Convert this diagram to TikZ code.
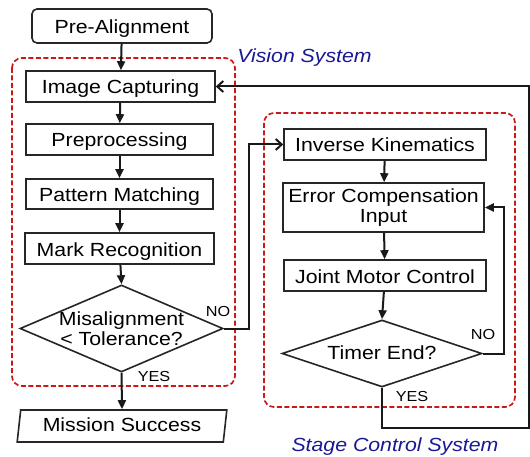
\documentclass[tikz,border=0pt]{standalone}
\usepackage{fontspec}
\setmainfont{Liberation Sans}[FakeStretch=1.12]
\usetikzlibrary{shapes.geometric,arrows.meta}
\definecolor{lblue}{RGB}{25,25,150}
\definecolor{dred}{RGB}{200,25,25}
\tikzset{
  box/.style={draw=black!85, line width=1.6pt, inner sep=0pt, align=center, font=\fontsize{19}{20}\selectfont},
  onel/.style={text height=15pt, text depth=0pt},
  dia/.style={draw=black!85, line width=1.6pt, diamond, inner sep=0pt},
  diatext/.style={align=center, font=\fontsize{19}{20}\selectfont, inner sep=0pt},
  grp/.style={draw=dred, line width=1.7pt, dash pattern=on 5pt off 2.5pt, rounded corners=10pt},
  grplabel/.style={text=lblue, font=\fontsize{19}{20}\selectfont\itshape},
  arr/.style={draw=black!90, line width=2pt, -{Triangle[length=9pt,width=8pt]}},
  arro/.style={draw=black!90, line width=2pt, -{Straight Barb[length=6pt,width=11pt,line width=2pt]}},
  lab/.style={font=\fontsize{14.5}{15}\selectfont, inner sep=0pt}
}
\begin{document}
\begin{tikzpicture}[x=1pt,y=-1pt]
\fill[white] (0,0) rectangle (530,457);
\useasboundingbox (0,0) rectangle (530,457);
% group frames
\draw[grp] (12,58) rectangle (235,386);
\draw[grp] (264,113) rectangle (515,407);
\node[grplabel] (vlab) at (304.5,58) {Vision System};
\node[grplabel] (slab) at (395,447) {Stage Control System};
% vision side
\node[box, onel, rounded corners=5pt, minimum width=180pt, minimum height=34pt] (pre) at (122,26) {Pre-Alignment};
\node[box, onel, minimum width=189pt, minimum height=31pt] (img) at (120.5,86.5) {Image Capturing};
\node[box, onel, minimum width=187pt, minimum height=31pt] (prep) at (119.5,139.5) {Preprocessing};
\node[box, onel, minimum width=187pt, minimum height=30pt] (pat) at (119.5,194) {Pattern Matching};
\node[box, onel, minimum width=189pt, minimum height=31pt] (mark) at (119.5,248.5) {Mark Recognition};
\node[dia, minimum width=203pt, minimum height=87pt] (d1) at (121.5,328.5) {};
\node[diatext] (d1t) at (121.5,329) {Misalignment\\\textless{} Tolerance?};
\node[box, text height=11pt, text depth=0pt, trapezium, trapezium left angle=76, trapezium right angle=104, trapezium stretches=true, minimum width=210pt, minimum height=32pt] (ms) at (122,426) {Mission Success};
% stage side
\node[box, onel, minimum width=202pt, minimum height=31pt] (ik) at (385,144.5) {Inverse Kinematics};
\node[box, minimum width=201pt, minimum height=49pt] (ec) at (383.5,207.5) {Error Compensation\\Input};
\node[box, onel, minimum width=202pt, minimum height=31pt] (jm) at (385,275.5) {Joint Motor Control};
\node[dia, minimum width=200pt, minimum height=67pt] (d2) at (382,353.5) {};
\node[diatext, text height=12pt, text depth=0pt] (d2t) at (382,353) {Timer End?};
% connectors
\draw[arr] (pre) -- (img);
\draw[arr] (img) -- (prep);
\draw[arr] (prep) -- (pat);
\draw[arr] (pat) -- (mark);
\draw[arr] (mark) -- (d1.north);
\draw[arr] (d1.south) -- (ms.north);
\coordinate (n1) at (249,328.5);
\draw[arro] (d1.east) -- (n1) |- (ik.west);
\draw[arr] (ik) -- (ec);
\draw[arr] (ec) -- (jm);
\draw[arr] (jm) -- (d2.north);
\coordinate (n2) at (504,353.5);
\draw[arr] (d2.east) -- (n2) |- (ec.east);
\coordinate (y1) at (382,428);
\coordinate (y2) at (529,428);
\coordinate (y3) at (529,86.5);
\draw[arro] (d2.south) -- (y1) -- (y2) -- (y3) -- (img.east);
% labels
\node[lab] (no1) at (218,312) {NO};
\node[lab] (yes1) at (154,377) {YES};
\node[lab] (no2) at (483,335) {NO};
\node[lab] (yes2) at (412,397) {YES};
\end{tikzpicture}
\end{document}
